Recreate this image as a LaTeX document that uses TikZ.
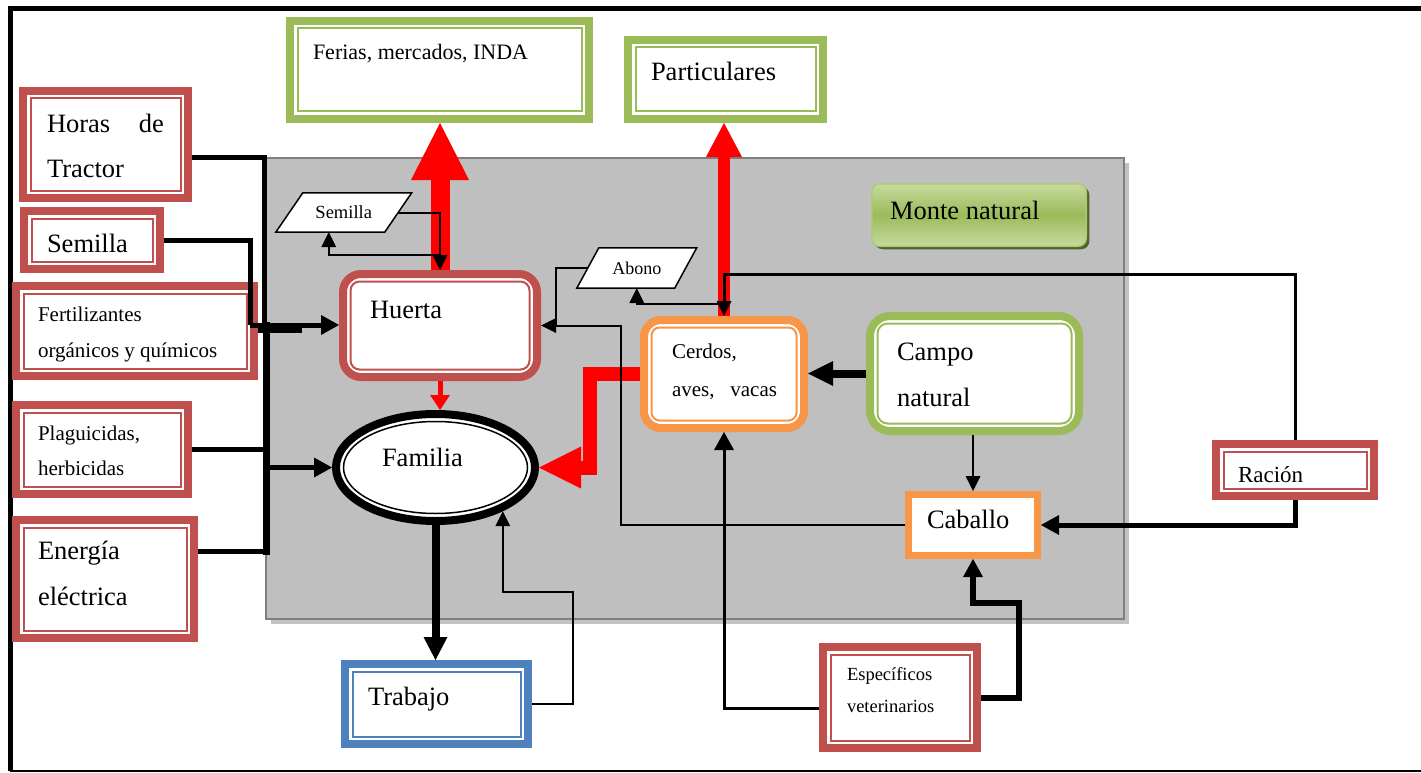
\documentclass[tikz,border=0pt]{standalone}
\usepackage{fontspec}
\setmainfont{Liberation Serif}
\usetikzlibrary{arrows.meta,shapes.geometric,shadows}
\pgfdeclarelayer{under}
\pgfsetlayers{under,main}

\definecolor{redB}{HTML}{C0504D}
\definecolor{greenB}{HTML}{9BBB59}
\definecolor{orangeB}{HTML}{F79646}
\definecolor{blueB}{HTML}{4F81BD}
\definecolor{panelGray}{HTML}{BFBFBF}
\definecolor{panelEdge}{HTML}{7F7F7F}
\definecolor{panelShade}{HTML}{C2C2C2}
\definecolor{monteLight}{HTML}{C6DA9E}
\definecolor{monteShadow}{HTML}{4F6228}
\definecolor{flowRed}{HTML}{FF0000}

\newcommand{\fsz}[2]{\fontsize{#1}{#2}\selectfont}

% box with a thick outer frame and a thin inner frame
% #1 name, #2-#5 outer extent (x1,y1,x2,y2), #6 colour, #7 outer radius, #8 inner radius
\newcommand{\dblbox}[8]{%
  \node[draw=#6, line width=8pt, fill=white, inner sep=0pt, rounded corners=#7pt,
        minimum width={#4-#2-8}, minimum height={#5-#3-8}]
        (#1) at ({(#2+#4)/2},{(#3+#5)/2}) {};
  \draw[#6, line width=2pt, rounded corners=#8pt]
     ([xshift=11.5pt,yshift=-11.5pt]#1.north west) rectangle
     ([xshift=-11.5pt,yshift=11.5pt]#1.south east);
}

\tikzset{
  lbl/.style={anchor=base west, inner sep=0pt, outer sep=0pt, font=\fsz{26.5}{30}},
  tipS/.style={-{Triangle[length=15pt,width=15pt,line width=0pt]}},
  tipM/.style={-{Triangle[length=18pt,width=20pt,line width=0pt]}},
  tipL/.style={-{Triangle[length=25pt,width=25pt,line width=0pt]}},
  wthin/.style={line width=2pt},
  wmid/.style={line width=3pt},
  wthick/.style={line width=5pt},
}

\begin{document}
\begin{tikzpicture}[x=1pt,y=-1pt]
\useasboundingbox (0,0) rectangle (1421,773);

% ---- frame and grey area ----
\begin{pgfonlayer}{under}
  \draw[line width=5pt] (8,9) -- (1421,9);
  \draw[line width=5pt] (10,6.5) -- (10,771);
  \draw[line width=1.5pt] (10,771) -- (1421,771);
  \node[draw=panelEdge, line width=2pt, fill=panelGray, inner sep=0pt,
        minimum width=858, minimum height=461,
        drop shadow={shadow xshift=5pt, shadow yshift=-5pt, fill=panelShade, opacity=1}]
        (pasture) at (695,388.5) {};
\end{pgfonlayer}

% ---- boxes ----
\dblbox{ferias}{286}{17}{593}{123}{greenB}{0}{0}
\dblbox{partic}{624}{36}{827}{123}{greenB}{0}{0}
\dblbox{horas}{19}{87}{192}{202}{redB}{0}{0}
\dblbox{semL}{20}{207}{164}{273}{redB}{0}{0}
\dblbox{fert}{12}{282}{258}{380}{redB}{0}{0}
\dblbox{plag}{12}{401}{192}{498}{redB}{0}{0}
\dblbox{energia}{12}{516}{198}{642}{redB}{0}{0}
\dblbox{huerta}{339}{270}{541}{381}{redB}{18}{9}
\dblbox{cerdos}{640}{316}{808}{432}{orangeB}{17}{8}
\dblbox{campo}{866}{312}{1083}{435}{greenB}{20}{10}
\dblbox{trabajo}{341}{660}{532}{748}{blueB}{0}{0}
\dblbox{racion}{1212}{440}{1378}{500}{redB}{0}{0}
\dblbox{espec}{819}{643}{981}{752}{redB}{0}{0}

\node[draw=orangeB, line width=7pt, fill=white, inner sep=0pt,
      minimum width=129, minimum height=61] (caballo) at (973,525) {};

\node[ellipse, draw=black, line width=8pt, fill=white, inner sep=0pt,
      minimum width=199, minimum height=107] (familia) at (435.5,467.5) {};
\draw[line width=1.5pt] (familia.center) ellipse [x radius=92, y radius=46];

\node[draw=greenB!80!white, line width=1.5pt, rounded corners=8pt, inner sep=0pt,
      top color=monteLight, bottom color=monteLight, middle color=greenB,
      minimum width=214.5, minimum height=62.5,
      drop shadow={shadow xshift=3pt, shadow yshift=-3pt, fill=monteShadow, opacity=1}]
      (monte) at (979,215) {};

% parallelograms: the node carries the text, the outline sits underneath
\node[inner sep=0pt, minimum width=108.5, minimum height=39, font=\fsz{18.5}{22}]
      (semP) at (343.75,212.5) {Semilla};
\node[inner sep=0pt, minimum width=97.5, minimum height=40, font=\fsz{18}{22}]
      (abP) at (636.75,268) {Abono};
\begin{pgfonlayer}{under}
  \draw[line width=1.5pt, fill=white]
    ([xshift=13.5pt]semP.north west) -- ([xshift=13.5pt]semP.north east) --
    ([xshift=-13.5pt]semP.south east) -- ([xshift=-13.5pt]semP.south west) -- cycle;
  \draw[line width=1.5pt, fill=white]
    ([xshift=11pt]abP.north west) -- ([xshift=11pt]abP.north east) --
    ([xshift=-11pt]abP.south east) -- ([xshift=-11pt]abP.south west) -- cycle;
\end{pgfonlayer}

% ---- labels ----
\node[lbl, font=\fsz{22}{26}] (tFerias) at (313,60) {Ferias, mercados, INDA};
\node[lbl] (tPart) at (651,81) {Particulares};
\node[lbl, font=\fsz{26.5}{45}] (tHoras) at (47,132) {\parbox[t]{117pt}{Horas\hfill de\\Tractor}};
\node[lbl] (tSemL) at (47,252) {Semilla};
\node[lbl, font=\fsz{21}{36}] (tFert) at (38,321) {\parbox[t]{200pt}{Fertilizantes\\orgánicos y químicos}};
\node[lbl, font=\fsz{21}{35}] (tPlag) at (38,440) {\parbox[t]{140pt}{Plaguicidas,\\herbicidas}};
\node[lbl, font=\fsz{26.5}{46}] (tEner) at (38,559) {\parbox[t]{140pt}{Energía\\eléctrica}};
\node[lbl] (tHuerta) at (370,318) {Huerta};
\node[lbl] (tFam) at (382,466) {Familia};
\node[lbl] (tTrab) at (368,705) {Trabajo};
\node[lbl, font=\fsz{21}{38}] (tCerdos) at (672,358) {\parbox[t]{105pt}{Cerdos,\\aves,\hfill vacas}};
\node[lbl, font=\fsz{26.5}{46}] (tCampo) at (897,360) {\parbox[t]{140pt}{Campo\\natural}};
\node[lbl] (tCab) at (927,528) {Caballo};
\node[lbl, font=\fsz{23}{26}] (tRac) at (1238,482) {Ración};
\node[lbl, font=\fsz{18.5}{32}] (tEsp) at (847,680) {\parbox[t]{120pt}{Específicos\\veterinarios}};
\node[lbl] (tMonte) at (890,219) {Monte natural};

% ---- helper points for the bends ----
\coordinate (hubA) at (264,325);
\coordinate (hubB) at (250,325);
\coordinate (trunkTop) at (266,322);
\coordinate (trunkBot) at (266,555);
\coordinate (cfA) at (590,0);
\coordinate (rcY) at (0,274);
\coordinate (chX) at (621,0);
\coordinate (ecA) at (1019,603);
\coordinate (tfA) at (573,592);

% ---- red flows ----
\draw[flowRed, line width=19pt, -{Triangle[length=57pt,width=58pt,line width=0pt]}]
  (huerta.north) -- (huerta.north |- ferias.south);
\draw[flowRed, line width=12pt, -{Triangle[length=34pt,width=36pt,line width=0pt]}]
  (cerdos.north) -- (cerdos.north |- partic.south);
\draw[flowRed, line width=5pt, -{Triangle[length=15pt,width=20pt,line width=0pt]}]
  (huerta.south) -- (huerta.south |- familia.north);
\draw[flowRed, line width=14pt, -{Triangle[length=42pt,width=42pt,line width=0pt]}]
  (cerdos.west) -| (cfA |- familia.east) -- (familia.east);

% ---- inputs on the left ----
\draw[wthick] ([yshift=-12.5pt]horas.east) -| (hubA);
\draw[wthick] (semL.east) -| (hubB);
\draw[line width=9pt] ([yshift=3pt]fert.east) -- ++(44,0);
\draw[wthick, tipM] (hubB) -- (hubB -| huerta.west);
\draw[line width=7pt] (trunkTop) -- (trunkBot);
\draw[wthick] (plag.east) -- (plag.east -| trunkTop);
\draw[wthick] ([yshift=28pt]energia.east) -| (trunkBot);
\draw[wthick, tipM] (trunkTop |- familia.west) -- (familia.west);

% ---- seed and manure loops ----
\draw[wthin, tipS] (semP.east) -| (huerta.north);
\draw[wthin, tipS] ([yshift=15pt]huerta.north) -| ([xshift=-15pt]semP.south);
\draw[wthin] (abP.west) -| ([xshift=15pt]huerta.east);
\draw[wthin, tipS] ([yshift=12pt]cerdos.north) -| (abP.south);

% ---- livestock ----
\draw[wmid, tipS] (racion.north) -- (racion.north |- rcY) -| (cerdos.north);
\draw[wthick, tipM] (racion.south) |- (caballo.east);
\draw[wthin, tipS] (caballo.west) -| (chX |- huerta.east) -- (huerta.east);
\draw[line width=8pt, tipL] (campo.west) -- (campo.west -| cerdos.east);
\draw[wthin, tipS] (campo.south -| caballo.north) -- (caballo.north);
\draw[wmid, tipM] ([yshift=-10.5pt]espec.west) -| (cerdos.south);
\draw[line width=6pt, tipM] (espec.east) -| (ecA) -| (caballo.south);

% ---- family and labour ----
\draw[line width=8pt, -{Triangle[length=23pt,width=24pt,line width=0pt]}]
  (familia.south) -- (familia.south |- trabajo.north);
\draw[wthin, tipS] (trabajo.east) -| (tfA) -| (familia.-33);

\end{tikzpicture}
\end{document}
